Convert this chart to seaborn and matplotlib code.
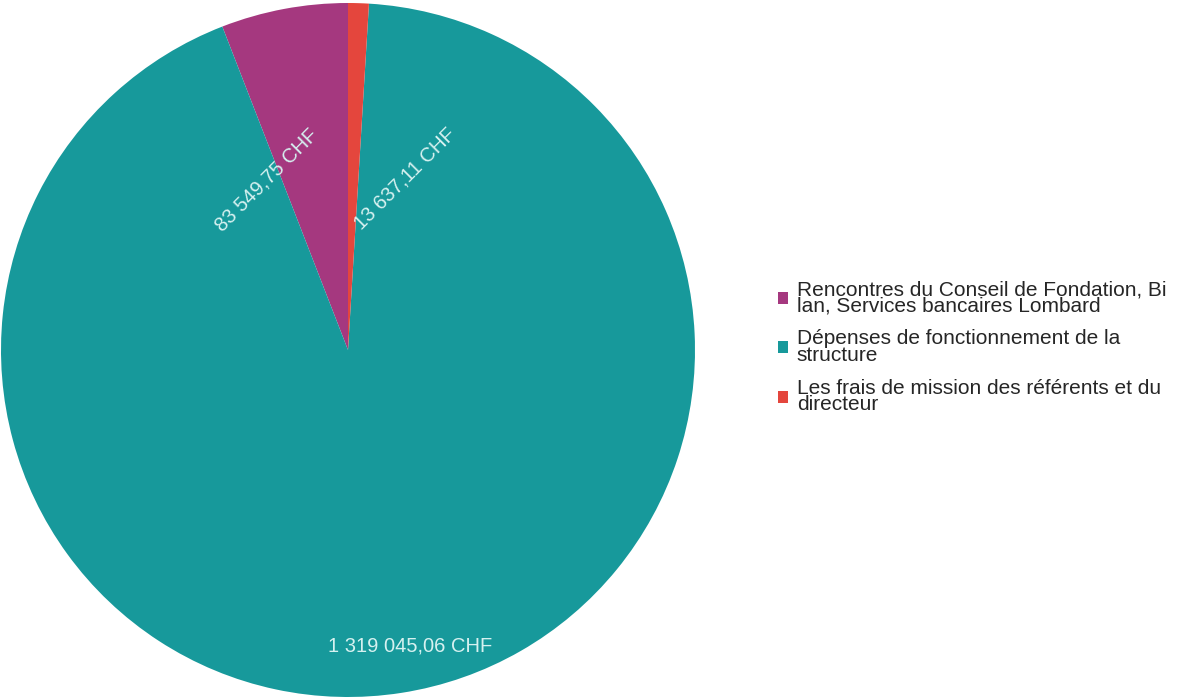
import numpy as np
import seaborn as sns
import matplotlib.pyplot as plt

# === ДАННЫЕ ===
categories = [
    "Rencontres du Conseil de Fondation, Bi\nlan, Services bancaires Lombard",
    "Dépenses de fonctionnement de la\nstructure",
    "Les frais de mission des référents et du\ndirecteur",
]
values = [83549.75, 1319045.06, 13637.11]
colors = ["#a5387f", "#17999b", "#e4463d"]

# положение подписей (координаты данных, радиус = 1) и поворот
label_pos = [(-0.235, 0.49), (0.178, -0.853), (0.165, 0.495)]
label_rot = [45, 0, 45]


def chf(v):
    return f"{v:,.2f}".replace(",", " ").replace(".", ",") + " CHF"


sns.set_theme(style="white")
plt.rcParams['font.family'] = ['Liberation Sans', 'DejaVu Sans']

fig = plt.figure(figsize=(11.83, 6.97), dpi=100)
W, H = 1183, 697
cx, cy, r = 348, 350, 347
ax = fig.add_axes([(cx - r) / W, (H - cy - r) / H, 2 * r / W, 2 * r / H])

wedges, texts, autotexts = ax.pie(
    values, colors=sns.color_palette(colors), startangle=90, counterclock=True,
    radius=1, wedgeprops=dict(linewidth=0), autopct="%1.1f",
    textprops=dict(color="#d6f1f0", fontsize=14.5),
)
for t, v, pos, rot in zip(autotexts, values, label_pos, label_rot):
    t.set_text(chf(v))
    t.set_position(pos)
    t.set_rotation(rot)
    t.set_ha("center")
    t.set_va("center")
    t.set_rotation_mode("anchor")

ax.set_xlim(-1, 1)
ax.set_ylim(-1, 1)
ax.set_aspect("equal")
ax.axis("off")

leg = fig.legend(wedges, categories, loc="upper left",
                 bbox_to_anchor=(778 / W, (H - 280) / H), frameon=False,
                 fontsize=15, handlelength=0.5, handleheight=0.5, handletextpad=0.4,
                 labelspacing=0.65, borderaxespad=0, borderpad=0)
for t in leg.get_texts():
    t.set_linespacing(0.85)

plt.savefig("out.png", dpi=100)
